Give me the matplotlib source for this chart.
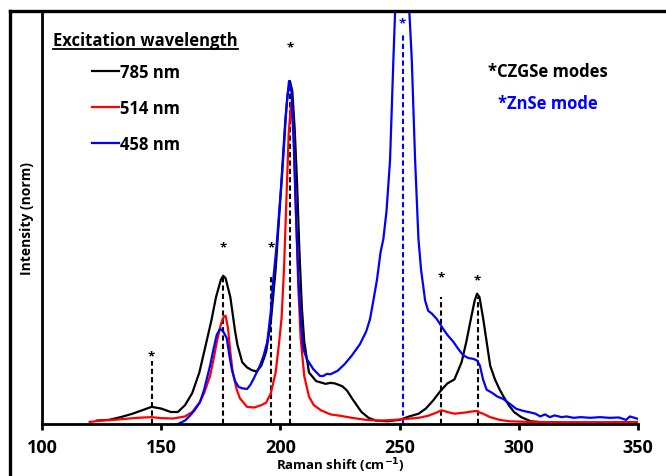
import matplotlib
matplotlib.use("Agg")
import matplotlib.pyplot as plt
from matplotlib.lines import Line2D

plt.rcParams["font.family"] = ["Open Sans", "DejaVu Sans"]
plt.rcParams["font.weight"] = "bold"

# ---- spectra (normalised intensity) ----
wn_785 = [123, 128, 133, 138, 142, 146, 150, 154, 157, 160, 163, 166, 169, 171, 173, 175, 176, 177,
          179, 181, 182, 184, 186, 188, 190, 192, 194, 196, 198, 200, 201, 202, 203, 204, 205, 206,
          207, 208, 209, 210, 212, 215, 219, 221, 223, 226, 228, 230, 232, 234, 237, 240, 245, 250,
          254, 258, 261, 264, 267, 270, 273, 276, 278, 280, 281.5, 282.5, 283.5, 285, 286.5, 288,
          290, 292, 294, 296, 298, 301, 305, 310, 320, 330, 340, 350]
int_785 = [0.010, 0.012, 0.020, 0.030, 0.040, 0.050, 0.045, 0.035, 0.035, 0.055, 0.090, 0.150, 0.240,
           0.300, 0.370, 0.420, 0.432, 0.425, 0.370, 0.270, 0.230, 0.180, 0.165, 0.157, 0.153, 0.170,
           0.210, 0.300, 0.450, 0.660, 0.770, 0.880, 0.960, 1.000, 0.970, 0.860, 0.700, 0.500, 0.340,
           0.240, 0.150, 0.125, 0.117, 0.120, 0.118, 0.110, 0.097, 0.075, 0.055, 0.035, 0.018, 0.010,
           0.008, 0.012, 0.022, 0.030, 0.045, 0.068, 0.095, 0.118, 0.130, 0.180, 0.240, 0.310, 0.360,
           0.380, 0.370, 0.310, 0.240, 0.170, 0.130, 0.100, 0.075, 0.053, 0.035, 0.020, 0.008, 0.005,
           0.004, 0.004, 0.004, 0.003]

wn_514 = [120, 125, 130, 135, 140, 146, 150, 155, 160, 163, 166, 168, 170.5, 172, 173.5, 175, 176, 177,
          178, 179, 180, 181.7, 183, 186, 189, 192, 194, 196, 198, 199.5, 200.5, 201.5, 202.5, 203.5,
          204.5, 205.5, 206.5, 207.5, 208.5, 210, 212, 214, 217, 221, 225, 230, 236, 242, 248, 253,
          258, 262, 265, 267.6, 270, 273, 277, 282, 285, 288, 292, 296, 305, 320, 335, 350]
int_514 = [0.006, 0.010, 0.012, 0.015, 0.018, 0.020, 0.017, 0.016, 0.022, 0.035, 0.062, 0.090, 0.140,
           0.190, 0.245, 0.290, 0.310, 0.316, 0.280, 0.210, 0.150, 0.100, 0.075, 0.050, 0.048, 0.055,
           0.062, 0.090, 0.150, 0.240, 0.310, 0.450, 0.650, 0.850, 0.935, 0.850, 0.620, 0.400, 0.250,
           0.140, 0.080, 0.055, 0.040, 0.028, 0.024, 0.018, 0.012, 0.010, 0.012, 0.015, 0.018, 0.024,
           0.032, 0.040, 0.035, 0.030, 0.033, 0.038, 0.030, 0.020, 0.012, 0.008, 0.006, 0.005, 0.005,
           0.006]

wn_458 = [157, 160, 162, 164, 166.3, 168, 170.5, 172, 173.3, 174.7, 176, 177.5, 178.6, 179.6, 181,
          182.5, 184, 186, 187.5, 189, 191.4, 193, 194.5, 196, 197, 198.4, 199.5, 200.5, 201.5, 202.5,
          203.6, 204.6, 205.6, 206.6, 207.6, 208.6, 209.6, 211, 213.8, 216.6, 218, 219.4, 221, 224,
          227, 230, 233.4, 236, 237.6, 239, 240.5, 242, 243.2, 244.5, 246, 247.4, 248.1, 249.5, 251.2,
          252.8, 254.1, 255.1, 256.5, 257.9, 259, 260.7, 262, 263.5, 265.6, 268.3, 270, 272.5, 274.5,
          276.7, 279, 280.9, 282.5, 283.7, 285, 286.5, 289, 291, 293.5, 296, 299, 302, 304.7, 307, 309,
          311, 313, 315, 318, 320, 323, 326, 330, 334, 338, 342, 345, 346.6, 350]
int_458 = [0.000, 0.010, 0.024, 0.040, 0.064, 0.100, 0.170, 0.220, 0.260, 0.277, 0.270, 0.250, 0.200,
           0.160, 0.125, 0.108, 0.104, 0.102, 0.115, 0.135, 0.170, 0.200, 0.240, 0.330, 0.420, 0.520,
           0.620, 0.705, 0.810, 0.920, 1.000, 0.970, 0.820, 0.600, 0.420, 0.300, 0.220, 0.190, 0.160,
           0.140, 0.140, 0.146, 0.145, 0.155, 0.175, 0.200, 0.233, 0.270, 0.306, 0.360, 0.420, 0.500,
           0.540, 0.620, 0.770, 1.064, 1.200, 1.600, 2.000, 1.600, 1.200, 1.064, 0.770, 0.540, 0.450,
           0.360, 0.330, 0.322, 0.306, 0.277, 0.260, 0.240, 0.220, 0.200, 0.192, 0.190, 0.185, 0.170,
           0.130, 0.100, 0.090, 0.080, 0.073, 0.060, 0.044, 0.038, 0.034, 0.030, 0.022, 0.028, 0.020,
           0.025, 0.020, 0.022, 0.018, 0.020, 0.018, 0.020, 0.018, 0.019, 0.012, 0.022, 0.015]

# ---- mode markers ----
czgse_pos = [146, 176, 196, 204, 267.5, 282.7]
czgse_top = [0.184, 0.43, 0.43, 1.0, 0.37, 0.37]
czgse_star = [0.198, 0.516, 0.516, 1.10, 0.43, 0.42]
znse_pos = [251.3]
znse_top = [1.14]
znse_star = [1.168]

series = [("785 nm", wn_785, int_785, "black"),
          ("514 nm", wn_514, int_514, "#ff0000"),
          ("458 nm", wn_458, int_458, "#0000ff")]

W, H = 666, 477
fig = plt.figure(figsize=(W / 100, H / 100), dpi=100)
ax = fig.add_axes([42 / W, 1 - 425 / H, (638 - 42) / W, (425 - 12) / H])


def fpx(x, y):
    return x / W, 1 - y / H


dash = (0, (2.5, 1.5))
ax.vlines(czgse_pos, 0, czgse_top, colors="black", linestyles=dash, linewidth=1.5, zorder=1)
ax.vlines(znse_pos, 0, znse_top, colors="#0000ff", linestyles=dash, linewidth=1.5, zorder=1)

handles = []
for label, x, y, c in series:
    ln, = ax.plot(x, y, color=c, linewidth=1.6, label=label, zorder=2)
    handles.append(ln)

for p, s in zip(czgse_pos, czgse_star):
    ax.text(p, s, "*", ha="center", va="center", fontsize=9.5, color="black")
for p, s in zip(znse_pos, znse_star):
    ax.text(p, s, "*", ha="center", va="center", fontsize=9.5, color="#0000ff")

ax.set_xlim(100, 350)
ax.set_ylim(0, 1.204)
ax.set_xticks([100, 150, 200, 250, 300, 350])
ax.set_yticks([])
ax.tick_params(axis="x", direction="out", length=4, width=2, pad=6, labelsize=13)
for lab in ax.get_xticklabels():
    lab.set_fontweight("bold")
for side in ["top", "right"]:
    ax.spines[side].set_visible(False)
for side in ["left", "bottom"]:
    ax.spines[side].set_linewidth(2)

ax.set_xlabel("Raman shift (cm$^{\\mathbf{-1}}$)", fontsize=9.5, fontweight="bold", labelpad=0)
ax.set_ylabel("Intensity (norm)", fontsize=10, fontweight="bold", labelpad=6)

leg = ax.legend(handles=handles, loc="upper left", bbox_to_anchor=fpx(92, 64), bbox_transform=fig.transFigure,
                frameon=False, handlelength=1.6, handletextpad=0.1, labelspacing=1.08,
                borderpad=0, borderaxespad=0, prop={"weight": "bold", "size": 12})

title = fig.text(*fpx(53, 41), "Excitation wavelength", fontsize=12, fontweight="bold", va="center", ha="left")
fig.text(*fpx(548, 72), "*CZGSe modes", fontsize=12, fontweight="bold", va="center", ha="center")
fig.text(*fpx(548, 104), "*ZnSe mode", fontsize=12, fontweight="bold", va="center", ha="center", color="#0000ff")

fig.canvas.draw()
bb = title.get_window_extent().transformed(fig.transFigure.inverted())
fig.add_artist(Line2D([bb.x0, bb.x1], [1 - 50 / H] * 2, transform=fig.transFigure, color="black", linewidth=1.3))

# partial frame around the figure
fig.add_artist(Line2D([10 / W, 10 / W], [0, 1 - 12 / H], transform=fig.transFigure, color="black", linewidth=2.4))
fig.add_artist(Line2D([10 / W, 1], [1 - 12 / H] * 2, transform=fig.transFigure, color="black", linewidth=2.4))

fig.savefig("out.png", dpi=100)
